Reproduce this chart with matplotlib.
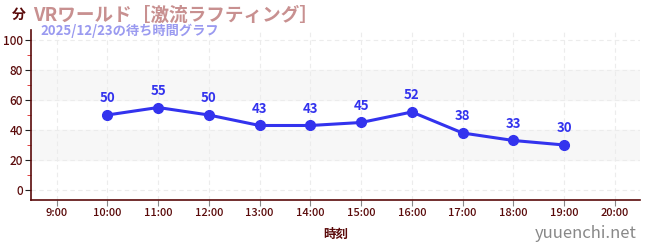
import matplotlib
matplotlib.use("Agg")
import matplotlib.pyplot as plt
from matplotlib.ticker import MultipleLocator

plt.rcParams['font.family'] = ['Noto Sans CJK JP', 'DejaVu Sans']

hours = [10, 11, 12, 13, 14, 15, 16, 17, 18, 19]
waits = [50, 55, 50, 43, 43, 45, 52, 38, 33, 30]
xticks = list(range(9, 21))
xlabels = [f"{h}:00" for h in xticks]
yticks = [0, 20, 40, 60, 80, 100]

title = "VRワールド［激流ラフティング］"
subtitle = "2025/12/23の待ち時間グラフ"

fig = plt.figure(figsize=(6.5, 2.5), dpi=100)
ax = fig.add_axes([0.048, 0.2, 0.937, 0.68])

dark = "#5a0a0a"
line_c = "#3333ee"

for lo, hi in [(20, 40), (60, 80)]:
    ax.axhspan(lo, hi, color="#f7f7f7", zorder=0)

ax.plot(hours, waits, color=line_c, lw=2.2, marker="o", ms=7, zorder=3)
for h, w in zip(hours, waits):
    ax.annotate(str(w), (h, w), xytext=(0, 7), textcoords="offset points",
                ha="center", va="bottom", color=line_c, fontsize=9.5,
                fontweight="bold")

ax.set_xlim(8.5, 20.5)
ax.set_ylim(-6.7, 106.7)
ax.set_xticks(xticks)
ax.set_xticklabels(xlabels, fontsize=8, color=dark, fontweight="medium")
ax.set_yticks(yticks)
ax.set_yticklabels([str(v) for v in yticks], fontsize=8.5, color=dark, fontweight="medium")
ax.yaxis.set_minor_locator(MultipleLocator(10))
ax.tick_params(axis="y", which="minor", length=3, color="#dd2222")
ax.tick_params(axis="y", which="major", length=4, color="#222222", pad=2)
ax.tick_params(axis="x", length=4, color="#888888", pad=2)
ax.grid(True, color="#ececec", ls=(0, (4, 3)), lw=0.8, zorder=1)

for s in ["top", "right"]:
    ax.spines[s].set_visible(False)
for s in ["left", "bottom"]:
    ax.spines[s].set_color(dark)
    ax.spines[s].set_linewidth(1.2)

ax.set_xlabel("時刻", fontsize=9, color=dark, fontweight="bold", labelpad=7)

fig.text(0.018, 0.94, "分", fontsize=10, color=dark, fontweight="bold", va="center")
fig.text(0.051, 0.94, title, fontsize=13.4, color="#c89090", fontweight="bold", va="center")
fig.text(0.062, 0.875, subtitle, fontsize=9.5, color="#9a9af0", fontweight="bold", va="center")
fig.text(0.98, 0.065, "yuuenchi.net", fontsize=12, color="#888888", ha="right", va="center")

fig.savefig("out.png", dpi=100)
